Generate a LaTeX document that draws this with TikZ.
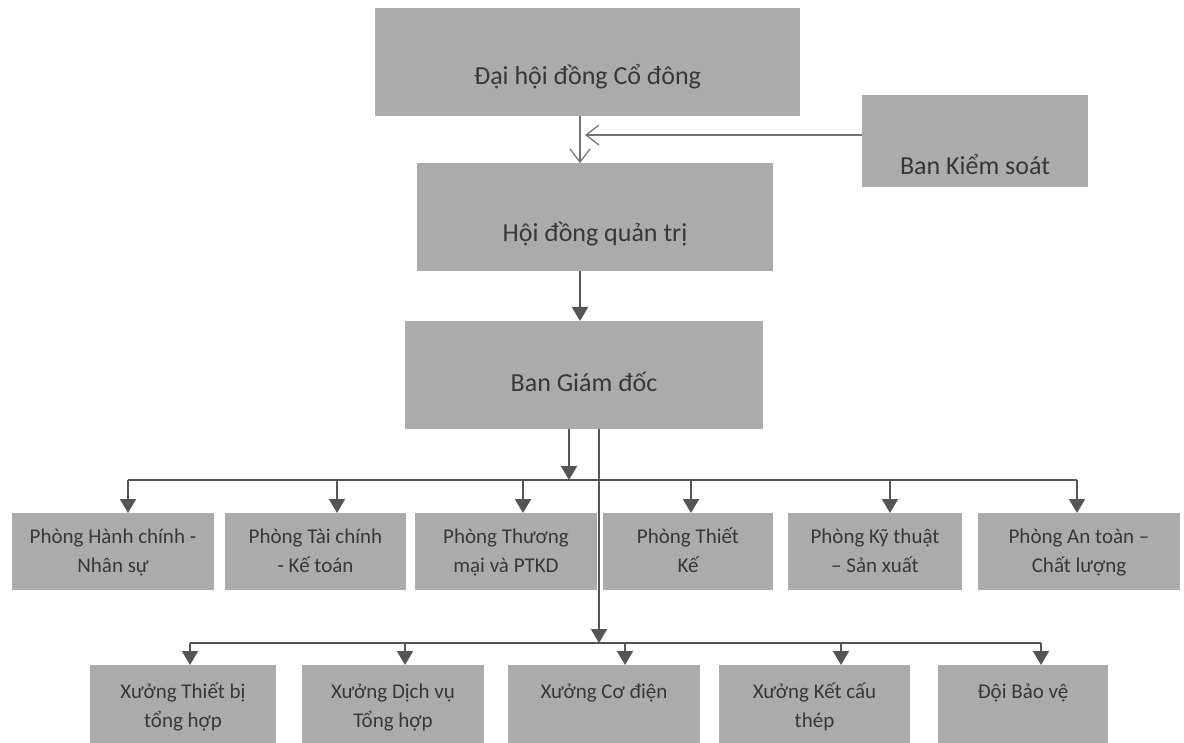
\documentclass[tikz,border=0pt]{standalone}
\usepackage{fontspec}
\setmainfont{Carlito}
\usepackage{tikz}
\usetikzlibrary{arrows.meta}
\definecolor{boxgray}{HTML}{ABABAB}
\definecolor{inkgray}{HTML}{383838}
\definecolor{linegray}{HTML}{555555}
\newcommand\hgt[1]{\rule{0pt}{#1pt}}
\newcommand\dpt[1]{\rule[-#1pt]{0pt}{0pt}}

\begin{document}
\begin{tikzpicture}[x=1pt,y=-1pt,
    unit/.style={fill=boxgray,text=inkgray,inner sep=0pt,anchor=north,align=center,font=\fontsize{26}{30}\selectfont},
    dept/.style={fill=boxgray,text=inkgray,inner sep=0pt,anchor=north,align=center,font=\fontsize{21}{29}\selectfont},
    arr/.style={draw=linegray,line width=2pt,-{Triangle[length=14pt,width=16pt]}},
    bus/.style={draw=linegray,line width=2pt},
    thinarr/.style={draw=black!55,line width=1.2pt,-{Straight Barb[length=13pt,width=20pt]}}]
\useasboundingbox (0,0) rectangle (1184,743);
\fill[white] (0,0) rectangle (1184,743);
            \node[unit,minimum width=425pt] (dhdcd) at (587.5,8) {\hgt{76}Đại hội đồng Cổ đông\dpt{32}};
            \node[unit,minimum width=226pt] (bks) at (975,95) {\hgt{79}Ban Kiểm soát\dpt{13}};
            \node[unit,minimum width=356pt] (hdqt) at (595,163) {\hgt{78}Hội đồng quản trị\dpt{30}};
            \node[unit,minimum width=358pt] (bgd) at (584,321) {\hgt{70}Ban Giám đốc\dpt{38}};
            % phong ban
            \node[dept,minimum width=202pt] (p1) at (113,513) {\hgt{30}Phòng Hành chính -\\Nhân sự\dpt{18}};
            \node[dept,minimum width=181pt] (p2) at (315.5,513) {\hgt{30}Phòng Tài chính\\- Kế toán\dpt{18}};
            \node[dept,minimum width=182pt] (p3) at (506,513) {\hgt{30}Phòng Thương\\mại và PTKD\dpt{18}};
            \node[dept,minimum width=170pt] (p4) at (688,513) {\hgt{30}Phòng Thiết\\Kế\dpt{18}};
            \node[dept,minimum width=174pt] (p5) at (875,513) {\hgt{30}Phòng Kỹ thuật\\– Sản xuất\dpt{18}};
            \node[dept,minimum width=202pt] (p6) at (1079,513) {\hgt{30}Phòng An toàn –\\Chất lượng\dpt{18}};
            % xuong
            \node[dept,minimum width=186pt] (x1) at (183,665) {\hgt{33}Xưởng Thiết bị\\tổng hợp\dpt{18}};
            \node[dept,minimum width=182pt] (x2) at (393,665) {\hgt{33}Xưởng Dịch vụ\\Tổng hợp\dpt{18}};
            \node[dept,minimum width=192pt] (x3) at (604,665) {\hgt{33}Xưởng Cơ điện\\\dpt{18}};
            \node[dept,minimum width=191pt] (x4) at (814.5,665) {\hgt{33}Xưởng Kết cấu\\thép\dpt{18}};
            \node[dept,minimum width=170pt] (x5) at (1023,665) {\hgt{33}Đội Bảo vệ\\\dpt{18}};
            \coordinate (axis) at (580,0);
            \coordinate (meet) at (585,135);
            \coordinate (bus1) at (569,480);
            \coordinate (bus2) at (599,643);
            \draw[thinarr] (dhdcd.south -| axis) -- (hdqt.north -| axis);
            \draw[thinarr] (bks.west |- meet) -- (meet);
            \draw[arr] (hdqt.south -| axis) -- (bgd.north -| axis);
            \draw[arr] (bgd.south -| bus1) -- (bus1);
            \draw[arr] (bgd.south -| bus2) -- (bus2);
            \draw[bus] (128,480) -- (1077,480);
            \draw[bus] (190,643) -- (1041,643);
            \foreach \n/\x in {p1/128,p2/337,p3/523,p4/691,p5/890,p6/1077}
                \draw[arr] (\x,480) -- (\n.north -| \x,0);
            \foreach \n/\x in {x1/190,x2/405,x3/625,x4/841,x5/1041}
                \draw[arr] (\x,643) -- (\n.north -| \x,0);
\end{tikzpicture}
\end{document}
